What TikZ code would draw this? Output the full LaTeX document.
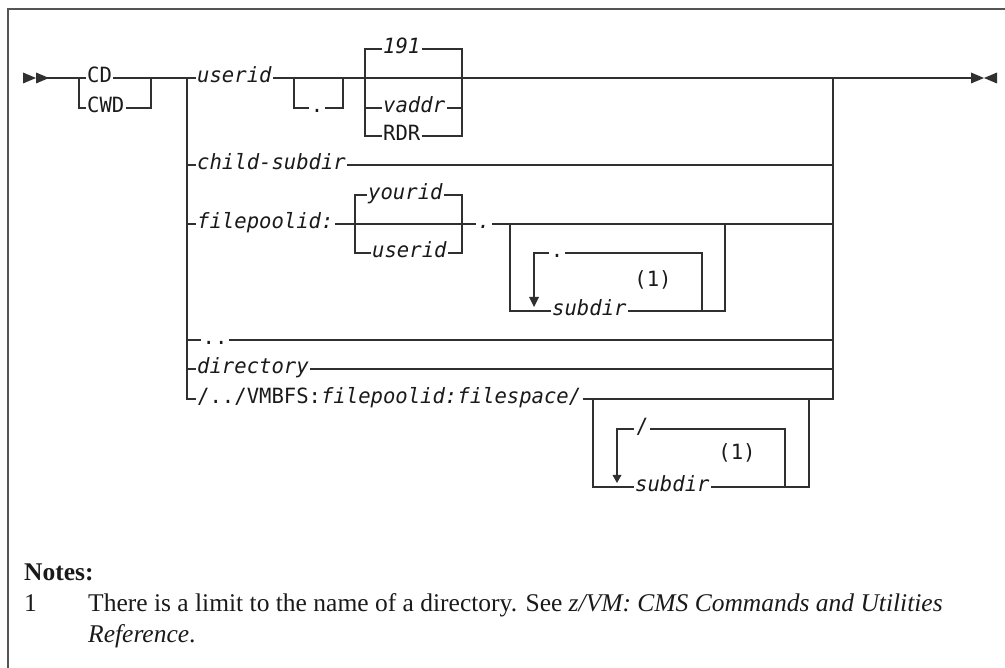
\documentclass[tikz,border=0pt]{standalone}
\usepackage{fontspec}
\newfontfamily\rr[FakeStretch=0.98]{DejaVu Sans Mono}
\newfontfamily\nf{Liberation Serif}
\definecolor{linec}{HTML}{303030}
\definecolor{textc}{HTML}{1A1A1A}
\definecolor{framec}{HTML}{555555}
\tikzset{
  rail/.style={line width=1.6pt, draw=linec, line cap=rect},
  lab/.style={anchor=west, inner xsep=2pt, inner ysep=0pt, text height=15pt, text depth=5pt,
              font=\rr\fontsize{21}{22}\selectfont, text=textc},
  ilab/.style={lab, font=\rr\fontsize{21}{22}\selectfont\itshape},
  dotlab/.style={lab, anchor=center},
  tip/.style={fill=linec, draw=none},
  note/.style={anchor=base west, inner sep=0pt, font=\nf\fontsize{25.5}{27}\selectfont, text=textc}
}
\begin{document}
\begin{tikzpicture}[x=1pt,y=-1pt]
\useasboundingbox (0,0) rectangle (1005,668);
% frame
\draw[framec, line width=1.5pt] (8,668) -- (8,9) -- (1005,9);

% ---------- main row ----------
\coordinate (s) at (48,78);
\coordinate (b1) at (79,78);   \coordinate (b1d) at (79,108);
\coordinate (b2) at (151,78);  \coordinate (b2d) at (151,108);
\coordinate (v1) at (187,78);  \coordinate (v1b) at (187,399);
\coordinate (d1) at (294,78);  \coordinate (d1d) at (294,108);
\coordinate (d2) at (343,78);  \coordinate (d2d) at (343,108);
\coordinate (c1t) at (365,49); \coordinate (c1) at (365,78); \coordinate (c1b) at (365,136);
\coordinate (c2t) at (462,49); \coordinate (c2b) at (462,136);
\coordinate (r1) at (833,78);  \coordinate (r1b) at (833,399);
\coordinate (e) at (972,78);

\node[lab] (CD) at (85,78) {CD};
\node[lab] (CWD) at (85,108) {CWD};
\node[ilab] (uid) at (195,78) {userid};
\node[dotlab] (dot1) at (317,108) {.};
\node[ilab] (n191) at (381,49) {191};
\node[ilab] (vaddr) at (381,108) {vaddr};
\node[lab] (rdr) at (381,136) {RDR};

% start / end marks
\fill[tip] (23,72.5) -- (36,78) -- (23,83.5) -- cycle;
\fill[tip] (36,72.5) -- (49,78) -- (36,83.5) -- cycle;
\fill[tip] (971,72.5) -- (984,78) -- (971,83.5) -- cycle;
\fill[tip] (997,72.5) -- (984,78) -- (997,83.5) -- cycle;

\draw[rail] (s) -- (b1) -- (CD.west);
\draw[rail] (CD.east) -- (b2) -- (v1) -- (uid.west);
\draw[rail] (b1) -- (b1d) -- (CWD.west);
\draw[rail] (CWD.east) -- (b2d) -- (b2);
\draw[rail] (uid.east) -- (d1) -- (d2) -- (c1) -- (r1) -- (e);
\draw[rail] (d1) -- (d1d) -- (dot1.west);
\draw[rail] (dot1.east) -- (d2d) -- (d2);
\draw[rail] (c1b) -- (c1t) -- (n191.west);
\draw[rail] (n191.east) -- (c2t) -- (c2b) -- (rdr.east);
\draw[rail] (rdr.west) -- (c1b);
\draw[rail] (c1 |- vaddr) -- (vaddr.west);
\draw[rail] (vaddr.east) -- (c2t |- vaddr);

% main verticals
\draw[rail] (v1) -- (v1b);
\draw[rail] (r1) -- (r1b);

% ---------- child-subdir ----------
\node[ilab] (cs) at (195,165) {child-subdir};
\draw[rail] (v1 |- cs) -- (cs.west);
\draw[rail] (cs.east) -- (r1 |- cs);

% ---------- filepoolid ----------
\node[ilab] (fp) at (195,224) {filepoolid:};
\coordinate (e1t) at (355,195); \coordinate (e1b) at (355,253);
\coordinate (e2t) at (462,195); \coordinate (e2b) at (462,253);
\node[ilab] (yid) at (366,195) {yourid};
\node[ilab] (uid2) at (370,253) {userid};
\node[dotlab, font=\rr\fontsize{21}{22}\selectfont\itshape] (dot2) at (484,224) {.};
\coordinate (f1t) at (510,224); \coordinate (f1b) at (510,311);
\coordinate (f2t) at (725,224); \coordinate (f2b) at (725,311);
\coordinate (g1t) at (534,253); \coordinate (g1a) at (534,299);
\coordinate (g2t) at (702,253); \coordinate (g2b) at (702,311);
\node[dotlab] (dot3) at (557,253) {.};
\node[ilab] (sub1) at (550,311) {subdir};
\node[lab, anchor=center] (fn1) at (653,282) {(1)};

\draw[rail] (v1 |- fp) -- (fp.west);
\draw[rail] (fp.east) -- (dot2.west);
\draw[rail] (dot2.east) -- (r1 |- fp);
\draw[rail] (e1b) -- (e1t) -- (yid.west);
\draw[rail] (yid.east) -- (e2t) -- (e2b) -- (uid2.east);
\draw[rail] (uid2.west) -- (e1b);
\draw[rail] (f1t) -- (f1b) -- (sub1.west);
\draw[rail] (sub1.east) -- (g2b) -- (f2b) -- (f2t);
\draw[rail] (g2b) -- (g2t) -- (dot3.east);
\draw[rail] (dot3.west) -- (g1t) -- (g1a);
\fill[tip] (529,297) -- (539,297) -- (534,307) -- cycle;

% ---------- .. and directory ----------
\node[dotlab] (dd) at (215,340) {..};
\draw[rail] (v1 |- dd) -- (dd.west);
\draw[rail] (dd.east) -- (r1 |- dd);
\node[ilab] (dir) at (195,369) {directory};
\draw[rail] (v1 |- dir) -- (dir.west);
\draw[rail] (dir.east) -- (r1 |- dir);

% ---------- VMBFS ----------
\node[lab] (vm) at (195,399) {/../VMBFS:\textit{filepoolid:filespace/}};
\coordinate (h1t) at (593,399); \coordinate (h1b) at (593,487);
\coordinate (h2t) at (809,399); \coordinate (h2b) at (809,487);
\coordinate (k1t) at (617,429); \coordinate (k1a) at (617,477);
\coordinate (k2t) at (785,429); \coordinate (k2b) at (785,487);
\node[dotlab] (slash) at (642,429) {/};
\node[ilab] (sub2) at (633,487) {subdir};
\node[lab, anchor=center] (fn2) at (737,455) {(1)};

\draw[rail] (v1b) -- (vm.west);
\draw[rail] (vm.east) -- (r1b);
\draw[rail] (h1t) -- (h1b) -- (sub2.west);
\draw[rail] (sub2.east) -- (k2b) -- (h2b) -- (h2t);
\draw[rail] (k2b) -- (k2t) -- (slash.east);
\draw[rail] (slash.west) -- (k1t) -- (k1a);
\fill[tip] (612.5,475) -- (621.5,475) -- (617,483) -- cycle;

% ---------- notes ----------
\node[note, font=\nf\bfseries\fontsize{25.5}{27}\selectfont] (notes) at (24,580) {Notes:};
\node[note] (n1) at (24,611) {1};
\node[note] (n1t) at (88,611) {There is a limit to the name of a directory. See \textit{z/VM: CMS Commands and Utilities}};
\node[note] (n1r) at (88,642) {\textit{Reference}.};
\end{tikzpicture}
\end{document}
